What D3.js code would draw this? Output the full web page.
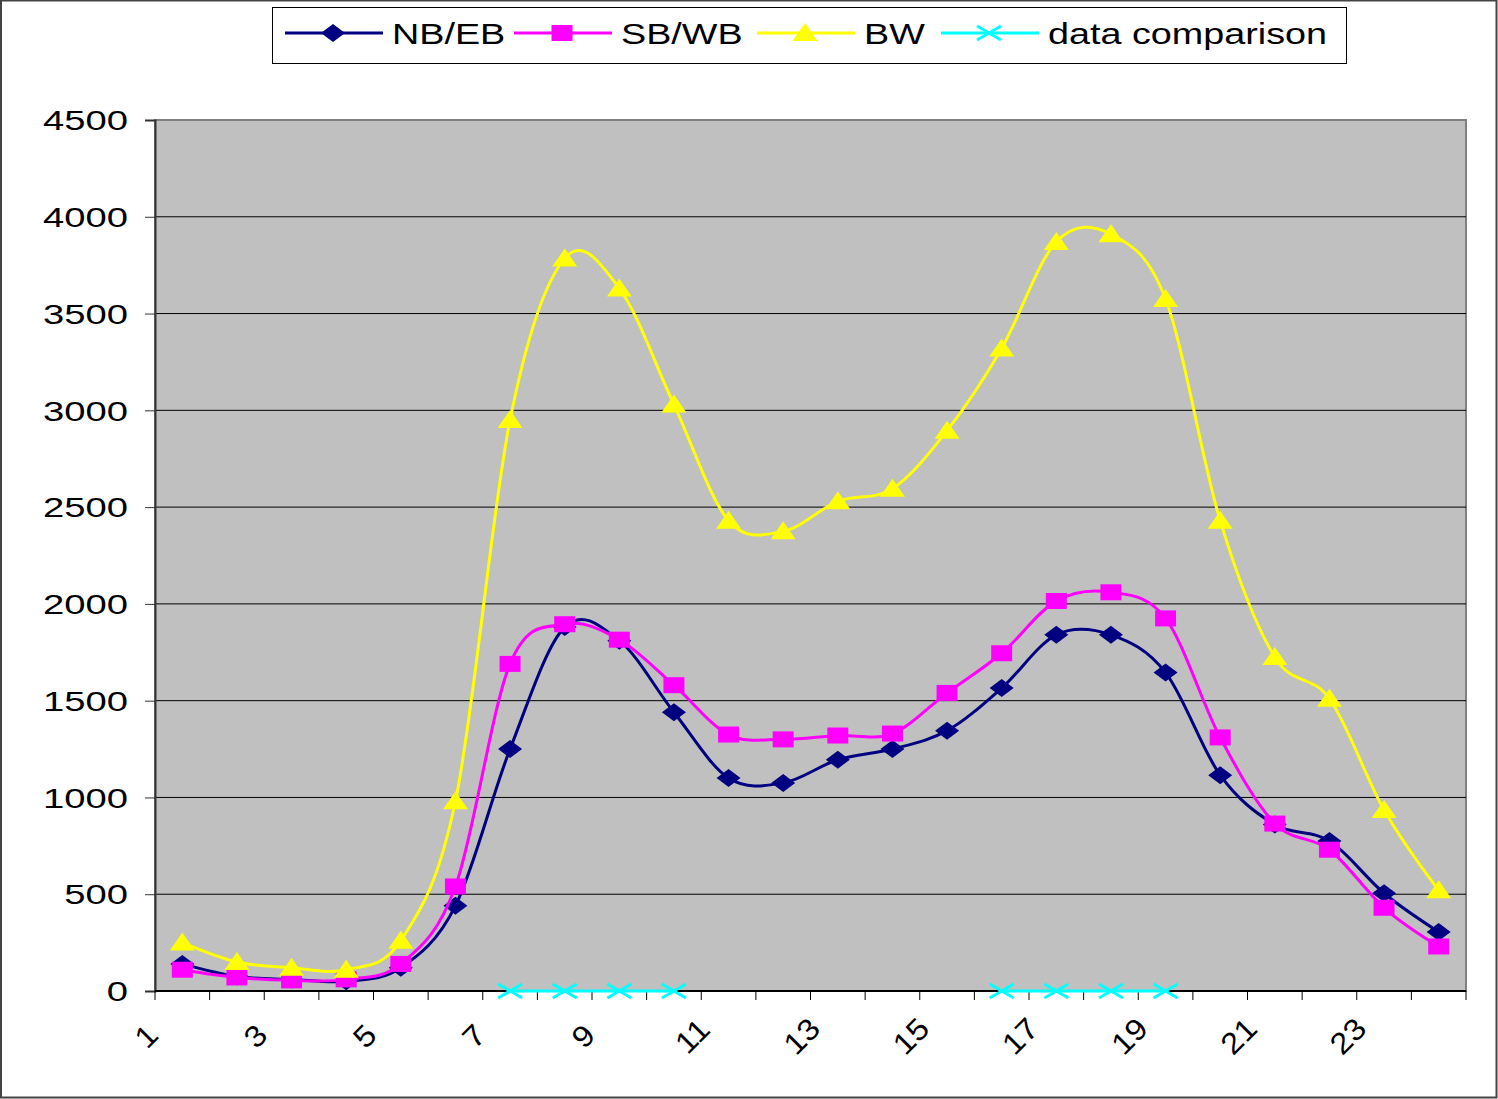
<!DOCTYPE html>
<html>
<head>
<meta charset="utf-8">
<script src="https://cdn.jsdelivr.net/npm/d3@7"></script>
<style>
  body { margin: 0; background: #fff; }
  svg { display: block; }
  text { font-family: "Liberation Sans", Arial, sans-serif; fill: #000; }
</style>
</head>
<body>
<svg width="1498" height="1099"></svg>
<script>
const width = 1498;
const height = 1099;

// hours of the day
const hours = d3.range(1, 25);
const nbeb = [140, 75, 60, 50, 120, 440, 1250, 1880, 1810, 1440, 1100, 1075, 1195, 1250, 1345, 1565, 1840, 1840, 1645, 1115, 860, 775, 505, 305];
const sbwb = [110, 70, 55, 60, 140, 540, 1690, 1895, 1815, 1580, 1325, 1300, 1320, 1330, 1540, 1745, 2015, 2060, 1925, 1310, 865, 730, 430, 230];
const bw = [250, 150, 120, 110, 260, 980, 2950, 3785, 3630, 3030, 2430, 2375, 2530, 2595, 2895, 3320, 3870, 3910, 3575, 2430, 1725, 1510, 935, 520];
// data comparison only exists for the peak hours
const compare = [null, null, null, null, null, null, 0, 0, 0, 0, null, null, null, null, null, 0, 0, 0, 0, null, null, null, null, null];
const yTicks = [0, 500, 1000, 1500, 2000, 2500, 3000, 3500, 4000, 4500];
const xLabels = [1, 3, 5, 7, 9, 11, 13, 15, 17, 19, 21, 23];

const series = [
  {name: 'NB/EB', values: nbeb, color: '#000080', marker: 'diamond'},
  {name: 'SB/WB', values: sbwb, color: '#ff00ff', marker: 'square'},
  {name: 'BW', values: bw, color: '#ffff00', marker: 'triangle'},
  {name: 'data comparison', values: compare, color: '#00ffff', marker: 'cross'}
];

const margin = {left: 155, right: 32, top: 120, bottom: 108};
const svg = d3.select('svg');

// outer chart border
svg.append('rect')
  .attr('x', 1).attr('y', 0.5)
  .attr('width', width - 2.5).attr('height', height - 2)
  .attr('fill', 'none')
  .attr('stroke', '#444').attr('stroke-width', 2);

const x = d3.scaleBand()
  .domain(hours)
  .range([margin.left, width - margin.right]);

const y = d3.scaleLinear()
  .domain([0, 4500])
  .range([height - margin.bottom, margin.top]);

const cx = d => x(d) + x.bandwidth() / 2;

// plot area
svg.append('rect')
  .attr('x', margin.left).attr('y', margin.top)
  .attr('width', width - margin.left - margin.right)
  .attr('height', height - margin.top - margin.bottom)
  .attr('fill', '#c0c0c0')
  .attr('stroke', '#808080').attr('stroke-width', 2);

// gridlines
svg.append('g')
  .selectAll('line')
  .data(yTicks.slice(1, -1))
  .join('line')
  .attr('x1', margin.left).attr('x2', width - margin.right)
  .attr('y1', d => y(d)).attr('y2', d => y(d))
  .attr('stroke', '#000').attr('stroke-width', 1);

// y axis
const yAxis = svg.append('g')
  .attr('transform', `translate(${margin.left},0)`)
  .call(d3.axisLeft(y).tickValues(yTicks).tickSize(10).tickPadding(0).tickFormat(d3.format('d')));
yAxis.select('.domain').attr('stroke', '#333').attr('stroke-width', 2);
yAxis.selectAll('.tick line').attr('stroke', '#333');
yAxis.selectAll('.tick text')
  .attr('font-size', 28.5)
  .attr('x', 0)
  .attr('dy', '0.34em')
  .attr('text-anchor', 'end')
  .attr('transform', 'translate(-27,0) scale(1.34,1)')
  .style('font-family', '"Liberation Sans", Arial, sans-serif');

// x axis: ticks between categories
const xAxisG = svg.append('g')
  .attr('transform', `translate(0,${height - margin.bottom})`);
xAxisG.append('line')
  .attr('x1', margin.left).attr('x2', width - margin.right)
  .attr('stroke', '#000').attr('stroke-width', 2);
xAxisG.selectAll('line.tk')
  .data(hours.concat([25]))
  .join('line')
  .attr('class', 'tk')
  .attr('x1', d => d === 25 ? width - margin.right : x(d))
  .attr('x2', d => d === 25 ? width - margin.right : x(d))
  .attr('y1', 0).attr('y2', 9)
  .attr('stroke', '#000');
xAxisG.selectAll('text')
  .data(xLabels)
  .join('text')
  .attr('transform', d => `translate(${x(d) - 9},45) rotate(-45) scale(1.1,1)`)
  .attr('text-anchor', 'middle')
  .attr('dy', '0.35em')
  .attr('font-size', 30)
  .text(d => d);

// lines and markers
const line = d3.line()
  .defined(d => d.v !== null)
  .x(d => cx(d.h))
  .y(d => y(d.v))
  .curve(d3.curveCatmullRom.alpha(0));

function drawMarker(g, type, color) {
  if (type === 'diamond') {
    g.append('path').attr('d', 'M-12,0L0,-9L12,0L0,9Z').attr('fill', color);
  } else if (type === 'square') {
    g.append('rect').attr('x', -10.5).attr('y', -8).attr('width', 21).attr('height', 16).attr('fill', color);
  } else if (type === 'triangle') {
    g.append('path').attr('d', 'M0,-10L12.5,8L-12.5,8Z').attr('fill', color);
  } else {
    g.append('path').attr('d', 'M-12,-7L12,7M-12,7L12,-7')
      .attr('stroke', color).attr('stroke-width', 3).attr('fill', 'none');
  }
}

series.forEach(s => {
  const pts = hours.map((h, i) => ({h: h, v: s.values[i]}));
  svg.append('path')
    .datum(pts)
    .attr('d', line)
    .attr('fill', 'none')
    .attr('stroke', s.color)
    .attr('stroke-width', 3);
  pts.filter(d => d.v !== null).forEach(d => {
    const g = svg.append('g').attr('transform', `translate(${cx(d.h)},${y(d.v)})`);
    drawMarker(g, s.marker, s.color);
  });
});

// legend
const legend = svg.append('g');
legend.append('rect')
  .attr('x', 272.5).attr('y', 7.5)
  .attr('width', 1074).attr('height', 56)
  .attr('fill', '#fff')
  .attr('stroke', '#000').attr('stroke-width', 1);

const legendX = [285, 514, 757, 941];
series.forEach((s, i) => {
  const g = legend.append('g').attr('transform', `translate(${legendX[i]},33)`);
  g.append('line')
    .attr('x1', 0).attr('x2', 98)
    .attr('stroke', s.color).attr('stroke-width', 3);
  const m = g.append('g').attr('transform', 'translate(48,0)');
  drawMarker(m, s.marker, s.color);
  g.append('text')
    .attr('x', 0).attr('y', 0)
    .attr('dy', '0.36em')
    .attr('font-size', 29.5)
    .attr('transform', 'translate(107,0) scale(1.28,1)')
    .text(s.name);
});
</script>
</body>
</html>
